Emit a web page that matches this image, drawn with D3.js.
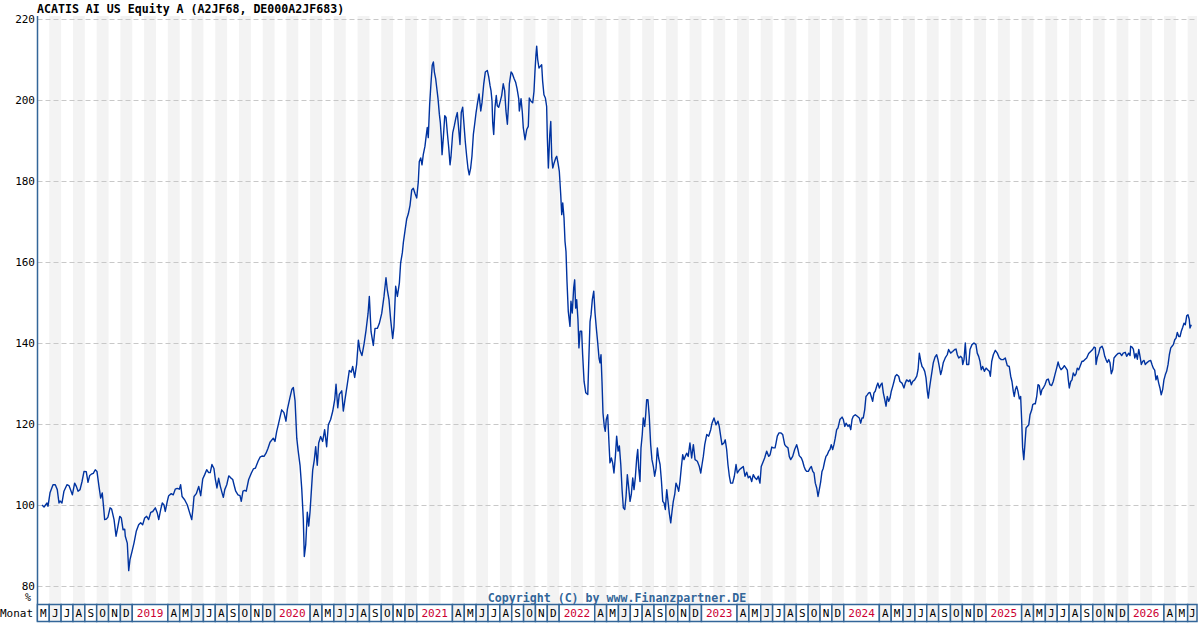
<!DOCTYPE html>
<html><head><meta charset="utf-8">
<script src="https://cdn.jsdelivr.net/npm/d3@7"></script>
<style>body{margin:0;background:#fff;}svg{display:block;}</style>
</head><body>
<svg id="chart" width="1200" height="630"></svg>
<script>
const title = "ACATIS AI US Equity A (A2JF68, DE000A2JF683)";
const copyright = "Copyright (C) by www.Finanzpartner.DE";
const yTicks = [80, 100, 120, 140, 160, 180, 200, 220];
const monthLetters = ["J","F","M","A","M","J","J","A","S","O","N","D"];
const axisStart = [2018, 4];   // May 2018 (year, 0-based month)
const axisEnd = [2026, 5];     // Jun 2026
const unitLabel = "%";
const rowLabel = "Monat";

// decimal-year dates and fund values (indexed, start = 100)
const dates = [
2018.366,2018.380,2018.401,2018.408,2018.422,2018.443,2018.459,2018.473,2018.485,2018.492,
2018.506,2018.520,2018.541,2018.555,2018.567,2018.579,2018.595,2018.607,2018.619,2018.633,
2018.647,2018.661,2018.677,2018.689,2018.701,2018.712,2018.726,2018.740,2018.752,2018.766,
2018.778,2018.789,2018.799,2018.806,2018.818,2018.829,2018.844,2018.855,2018.872,2018.886,
2018.895,2018.912,2018.923,2018.935,2018.947,2018.951,2018.965,2018.975,2018.984,2018.998,
2019.012,2019.028,2019.045,2019.059,2019.073,2019.087,2019.101,2019.115,2019.130,2019.144,
2019.162,2019.176,2019.186,2019.200,2019.211,2019.223,2019.232,2019.246,2019.256,2019.274,
2019.288,2019.302,2019.316,2019.331,2019.340,2019.350,2019.368,2019.387,2019.404,2019.418,
2019.427,2019.434,2019.450,2019.467,2019.481,2019.495,2019.509,2019.523,2019.537,2019.548,
2019.560,2019.574,2019.584,2019.595,2019.607,2019.619,2019.631,2019.640,2019.650,2019.664,
2019.678,2019.692,2019.706,2019.715,2019.727,2019.743,2019.757,2019.766,2019.778,2019.790,
2019.801,2019.818,2019.837,2019.851,2019.865,2019.884,2019.898,2019.912,2019.926,2019.940,
2019.954,2019.968,2019.991,2020.003,2020.015,2020.026,2020.050,2020.066,2020.080,2020.090,
2020.108,2020.122,2020.132,2020.144,2020.156,2020.165,2020.179,2020.191,2020.202,2020.209,
2020.219,2020.230,2020.240,2020.249,2020.261,2020.268,2020.279,2020.289,2020.300,2020.310,
2020.324,2020.338,2020.352,2020.366,2020.378,2020.394,2020.409,2020.423,2020.432,2020.444,
2020.455,2020.472,2020.483,2020.495,2020.511,2020.525,2020.539,2020.549,2020.563,2020.577,
2020.589,2020.600,2020.614,2020.629,2020.643,2020.657,2020.666,2020.678,2020.694,2020.706,
2020.722,2020.736,2020.753,2020.769,2020.783,2020.792,2020.804,2020.816,2020.830,2020.839,
2020.851,2020.863,2020.877,2020.886,2020.898,2020.905,2020.917,2020.929,2020.940,2020.952,
2020.964,2020.975,2020.987,2020.999,2021.010,2021.017,2021.027,2021.036,2021.045,2021.057,
2021.064,2021.073,2021.080,2021.090,2021.099,2021.108,2021.116,2021.123,2021.132,2021.139,
2021.149,2021.158,2021.165,2021.172,2021.177,2021.186,2021.196,2021.205,2021.214,2021.224,
2021.233,2021.240,2021.252,2021.263,2021.275,2021.284,2021.294,2021.303,2021.312,2021.322,
2021.331,2021.340,2021.350,2021.359,2021.368,2021.378,2021.387,2021.397,2021.406,2021.416,
2021.425,2021.437,2021.449,2021.458,2021.470,2021.481,2021.495,2021.505,2021.514,2021.521,
2021.528,2021.533,2021.540,2021.549,2021.558,2021.565,2021.575,2021.584,2021.596,2021.607,
2021.617,2021.626,2021.636,2021.643,2021.650,2021.662,2021.671,2021.683,2021.694,2021.704,
2021.716,2021.720,2021.732,2021.741,2021.748,2021.760,2021.772,2021.783,2021.790,2021.802,
2021.814,2021.823,2021.830,2021.837,2021.842,2021.849,2021.858,2021.867,2021.877,2021.884,
2021.893,2021.903,2021.912,2021.917,2021.924,2021.934,2021.941,2021.948,2021.955,2021.964,
2021.976,2021.983,2021.992,2022.001,2022.011,2022.018,2022.025,2022.034,2022.041,2022.048,
2022.055,2022.064,2022.076,2022.083,2022.092,2022.102,2022.109,2022.116,2022.123,2022.132,
2022.139,2022.147,2022.158,2022.165,2022.175,2022.187,2022.201,2022.208,2022.217,2022.224,
2022.233,2022.243,2022.252,2022.261,2022.271,2022.280,2022.287,2022.294,2022.301,2022.308,
2022.317,2022.324,2022.331,2022.341,2022.350,2022.357,2022.367,2022.376,2022.385,2022.395,
2022.404,2022.414,2022.423,2022.433,2022.442,2022.451,2022.461,2022.470,2022.479,2022.489,
2022.498,2022.507,2022.517,2022.526,2022.535,2022.545,2022.552,2022.559,2022.568,2022.575,
2022.584,2022.591,2022.601,2022.608,2022.615,2022.624,2022.633,2022.643,2022.652,2022.662,
2022.671,2022.681,2022.690,2022.699,2022.709,2022.718,2022.728,2022.737,2022.746,2022.756,
2022.765,2022.774,2022.784,2022.793,2022.802,2022.812,2022.821,2022.830,2022.840,2022.849,
2022.858,2022.868,2022.877,2022.886,2022.896,2022.907,2022.919,2022.931,2022.943,2022.955,
2022.971,2022.985,2022.995,2023.004,2023.013,2023.023,2023.037,2023.051,2023.065,2023.074,
2023.088,2023.102,2023.116,2023.125,2023.135,2023.144,2023.158,2023.167,2023.177,2023.186,
2023.196,2023.205,2023.219,2023.231,2023.243,2023.252,2023.266,2023.280,2023.294,2023.306,
2023.318,2023.329,2023.341,2023.353,2023.364,2023.376,2023.388,2023.399,2023.411,2023.420,
2023.430,2023.444,2023.458,2023.473,2023.482,2023.494,2023.505,2023.517,2023.524,2023.533,
2023.545,2023.557,2023.571,2023.585,2023.594,2023.608,2023.617,2023.627,2023.641,2023.655,
2023.669,2023.678,2023.687,2023.702,2023.711,2023.721,2023.730,2023.739,2023.751,2023.763,
2023.772,2023.782,2023.791,2023.800,2023.810,2023.819,2023.828,2023.838,2023.847,2023.856,
2023.866,2023.875,2023.884,2023.894,2023.903,2023.912,2023.922,2023.931,2023.940,2023.950,
2023.959,2023.973,2023.988,2023.997,2024.007,2024.016,2024.030,2024.039,2024.049,2024.058,
2024.067,2024.081,2024.095,2024.109,2024.119,2024.128,2024.137,2024.147,2024.156,2024.165,
2024.175,2024.184,2024.193,2024.203,2024.212,2024.221,2024.231,2024.240,2024.250,2024.260,
2024.269,2024.278,2024.288,2024.297,2024.306,2024.316,2024.325,2024.334,2024.344,2024.353,
2024.362,2024.372,2024.386,2024.395,2024.409,2024.423,2024.432,2024.442,2024.456,2024.465,
2024.475,2024.484,2024.498,2024.513,2024.522,2024.531,2024.541,2024.550,2024.559,2024.569,
2024.578,2024.587,2024.594,2024.601,2024.611,2024.620,2024.629,2024.641,2024.653,2024.662,
2024.671,2024.681,2024.690,2024.699,2024.713,2024.727,2024.737,2024.751,2024.765,2024.780,
2024.789,2024.798,2024.808,2024.822,2024.831,2024.836,2024.845,2024.854,2024.864,2024.878,
2024.887,2024.901,2024.915,2024.929,2024.938,2024.948,2024.957,2024.966,2024.976,2024.988,
2025.000,2025.011,2025.023,2025.030,2025.040,2025.051,2025.065,2025.079,2025.093,2025.107,
2025.121,2025.135,2025.149,2025.163,2025.173,2025.182,2025.191,2025.198,2025.206,2025.215,
2025.224,2025.234,2025.243,2025.250,2025.257,2025.265,2025.272,2025.281,2025.290,2025.300,
2025.309,2025.321,2025.328,2025.337,2025.346,2025.356,2025.365,2025.374,2025.384,2025.393,
2025.402,2025.414,2025.426,2025.437,2025.449,2025.461,2025.472,2025.484,2025.496,2025.506,
2025.515,2025.527,2025.539,2025.550,2025.562,2025.571,2025.578,2025.585,2025.595,2025.604,
2025.613,2025.623,2025.632,2025.641,2025.651,2025.660,2025.674,2025.683,2025.697,2025.707,
2025.721,2025.735,2025.749,2025.759,2025.768,2025.773,2025.782,2025.792,2025.801,2025.815,
2025.824,2025.834,2025.843,2025.852,2025.862,2025.871,2025.880,2025.890,2025.899,2025.913,
2025.927,2025.941,2025.953,2025.964,2025.978,2025.988,2026.002,2026.012,2026.016,2026.026,
2026.035,2026.045,2026.054,2026.063,2026.073,2026.082,2026.091,2026.101,2026.110,2026.119,
2026.129,2026.143,2026.157,2026.166,2026.175,2026.185,2026.194,2026.203,2026.213,2026.222,
2026.231,2026.241,2026.250,2026.260,2026.269,2026.279,2026.288,2026.298,2026.307,2026.316,
2026.326,2026.335,2026.344,2026.354,2026.363,2026.372,2026.382,2026.391,2026.400,2026.410,
2026.419,2026.428,2026.433,2026.442
];
const values = [
100.0,99.5,100.5,99.7,103.0,105.0,105.0,103.8,100.5,101.0,
100.5,103.4,105.0,104.8,103.7,102.5,105.4,104.6,103.4,103.8,
105.8,108.3,108.2,105.6,107.3,107.6,107.8,108.7,108.3,104.6,
101.7,103.0,99.3,96.4,96.5,97.0,99.3,99.0,96.4,92.3,
93.9,97.2,96.8,93.9,94.0,92.3,90.6,83.8,86.5,88.5,
90.6,93.5,95.1,95.6,95.1,96.8,97.2,96.4,98.2,98.4,
99.3,98.0,96.4,98.9,100.5,100.0,98.4,100.9,102.3,102.8,
102.5,103.9,104.1,103.9,105.0,102.1,101.3,100.0,98.0,96.4,
99.3,102.1,102.8,104.6,102.3,106.4,107.5,108.7,108.0,108.0,
110.0,109.0,106.3,104.2,106.6,104.6,103.0,101.9,103.8,105.0,
107.2,106.7,106.3,105.0,103.4,102.5,102.3,100.9,103.4,103.6,
103.4,106.3,107.9,108.9,109.1,110.8,111.8,112.1,112.0,112.8,
114.0,115.5,116.5,115.7,118.2,119.8,123.5,122.8,120.7,123.6,
126.5,128.6,129.0,125.7,116.5,113.6,109.8,104.0,96.5,87.3,
90.2,98.2,94.8,98.2,104.8,108.6,111.1,114.4,109.8,115.3,
116.9,115.7,118.6,114.4,119.8,121.1,123.2,126.1,129.8,124.0,
127.3,128.2,123.2,126.1,129.8,133.2,132.8,134.2,131.5,134.8,
140.7,138.2,136.9,139.8,143.2,147.3,151.5,142.8,139.4,143.6,
143.6,144.8,147.3,151.5,156.1,153.2,150.7,145.7,141.1,144.0,
154.0,151.5,154.8,159.8,162.3,164.8,167.8,170.7,171.9,174.0,
177.8,178.2,176.9,175.8,179.8,184.8,185.7,184.0,186.5,188.6,
190.7,193.2,190.7,199.0,204.0,208.6,209.4,206.9,205.3,203.2,
200.2,196.5,194.4,190.7,186.5,190.7,196.1,195.7,191.9,188.2,
184.0,186.1,191.9,193.6,195.7,196.9,192.8,189.0,196.9,198.2,
194.0,189.8,186.1,183.2,181.5,183.2,186.1,191.5,194.0,196.9,
199.0,201.5,197.3,199.4,204.0,206.9,207.3,205.7,203.6,202.3,
199.8,194.4,191.5,198.2,201.1,198.6,198.2,199.4,201.1,204.0,
202.3,197.3,194.0,198.2,204.0,206.9,206.5,205.3,204.4,202.8,
200.3,197.3,200.3,197.0,193.1,190.2,192.7,193.5,200.5,199.7,
199.3,202.1,207.1,211.2,213.3,210.0,207.9,208.3,208.7,204.6,
201.3,200.5,198.4,190.6,183.2,191.4,194.7,185.7,183.2,184.4,
185.7,186.1,184.4,182.4,176.6,171.7,174.6,170.9,165.1,162.6,
155.2,147.8,144.1,150.3,147.4,153.6,155.6,148.6,150.7,145.8,
138.8,142.9,142.9,137.1,130.5,127.7,127.3,135.5,145.3,147.0,
150.7,152.8,147.4,143.7,140.0,136.3,135.1,137.1,130.5,122.7,
119.4,118.2,121.1,122.3,115.3,110.4,111.6,110.4,107.9,112.0,
117.0,113.3,114.6,110.0,103.8,99.3,98.9,102.1,107.5,104.2,
100.9,102.6,106.7,103.8,106.7,111.6,113.7,109.1,105.8,114.1,
117.4,121.5,119.4,122.3,126.0,126.0,121.9,114.9,111.2,109.5,
107.1,109.1,114.1,111.6,110.0,106.3,100.9,100.5,98.9,103.8,
100.9,98.0,95.6,98.4,100.9,102.6,105.4,104.6,103.4,105.8,
109.1,112.4,111.2,112.0,112.8,112.0,115.3,111.6,114.9,111.2,
110.8,109.5,107.9,110.0,112.0,114.9,117.4,117.0,118.6,120.2,
121.5,119.8,120.7,119.4,117.0,114.9,115.3,116.1,113.7,110.0,
107.1,105.4,105.4,107.1,110.0,107.9,108.7,109.1,109.5,107.1,
108.1,106.7,107.1,105.8,107.5,106.7,106.3,107.1,105.4,109.5,
110.4,111.6,113.3,112.0,112.4,114.3,114.1,114.1,115.3,117.0,
117.8,117.8,117.4,114.9,114.5,114.1,112.0,111.2,112.0,113.7,
114.9,113.7,112.2,111.6,110.8,109.5,108.7,108.3,108.3,109.1,
109.5,108.3,107.9,105.4,104.2,102.1,103.8,105.8,108.3,109.1,
110.8,112.0,112.4,113.3,113.7,114.9,113.7,114.9,116.5,118.6,
119.0,121.1,121.7,121.1,119.4,120.2,119.4,119.8,118.6,121.1,
121.9,122.3,121.9,121.5,120.2,121.5,121.5,123.5,126.8,127.2,
127.7,127.8,126.8,125.6,127.7,128.1,129.3,130.1,128.9,129.7,
130.1,127.7,126.0,124.4,126.8,125.6,126.4,128.1,129.3,130.5,
131.8,132.2,131.8,130.5,130.1,128.9,130.1,130.9,130.5,130.9,
129.7,130.5,130.9,131.8,133.4,137.5,135.5,134.2,133.8,133.0,
131.4,128.1,126.4,128.5,130.9,133.0,135.1,136.5,137.1,135.9,
134.2,132.2,133.4,135.1,136.3,137.1,138.4,137.5,137.9,138.4,
138.5,137.1,136.3,136.7,136.3,134.7,135.9,140.0,134.7,134.7,
138.4,139.6,140.0,139.6,137.5,136.7,135.5,133.4,134.2,133.0,
133.8,133.4,133.0,131.8,135.5,137.1,138.2,137.5,136.3,135.9,
135.9,136.3,134.4,134.2,131.8,130.5,128.1,126.8,128.5,129.3,
128.1,126.2,126.8,121.1,114.1,111.2,114.5,119.0,119.4,119.8,
122.3,123.5,124.8,125.0,125.0,126.8,129.7,129.5,127.2,128.5,
128.9,129.7,130.9,131.1,129.7,129.5,130.5,132.2,133.8,135.3,
134.2,133.4,133.8,134.4,133.8,133.3,130.9,128.9,130.5,130.9,
132.6,131.9,132.4,133.8,133.4,134.2,135.5,135.5,136.0,136.3,
137.4,137.9,138.4,139.0,138.8,134.7,136.5,137.5,138.8,139.2,
138.4,136.7,135.9,135.2,135.9,135.1,132.4,133.4,136.3,136.9,
137.4,137.5,136.9,137.5,137.7,136.7,137.5,136.9,139.2,139.0,
138.5,136.3,137.4,136.0,138.4,136.7,134.7,135.5,135.7,134.7,
135.1,135.5,135.7,134.7,133.8,133.3,130.9,131.9,130.1,128.9,
127.2,128.5,130.9,132.2,133.0,134.7,137.1,138.8,139.2,139.6,
140.8,141.2,142.6,141.6,141.6,142.9,143.9,144.9,144.5,146.7,
147.0,145.8,143.7,144.5
];

const series = dates.map((d, i) => ({ t: d, v: values[i] }));

const svg = d3.select("#chart");
const plot = { left: 37.5, right: 1197, top: 16, bottom: 604 };
const axisRow = { top: 604.5, bottom: 621.5 };
const t0 = axisStart[0] + axisStart[1] / 12;
const pxPerYear = 142.3;
const x = d3.scaleLinear()
  .domain([t0, t0 + (plot.right - 37.4) / pxPerYear])
  .range([37.4, plot.right]);
const y = d3.scaleLinear().domain([80, 220]).range([586, 19]);

// month list
const months = [];
for (let yr = axisStart[0], m = axisStart[1]; yr < axisEnd[0] || (yr === axisEnd[0] && m <= axisEnd[1]); ) {
  months.push({ yr, m, t: yr + m / 12 });
  m++; if (m > 11) { m = 0; yr++; }
}

svg.append("defs").append("clipPath").attr("id", "pc")
  .append("rect").attr("x", plot.left).attr("y", plot.top)
  .attr("width", plot.right - plot.left).attr("height", plot.bottom - plot.top);

const g = svg.append("g").attr("clip-path", "url(#pc)");

// alternating month stripes
g.selectAll("rect.stripe").data(months.filter(d => d.m % 2 === 1)).enter()
  .append("rect").attr("class", "stripe")
  .attr("x", d => x(d.t)).attr("y", plot.top)
  .attr("width", d => x(d.t + 1 / 12) - x(d.t))
  .attr("height", plot.bottom - plot.top)
  .attr("fill", "#f3f3f3");

// grid lines
g.selectAll("line.grid").data(yTicks).enter().append("line")
  .attr("x1", plot.left).attr("x2", plot.right)
  .attr("y1", d => Math.round(y(d)) + 0.5).attr("y2", d => Math.round(y(d)) + 0.5)
  .attr("stroke", "#c8c8c8").attr("stroke-width", 1)
  .attr("stroke-dasharray", "5,3");

// line
g.append("path").datum(series)
  .attr("fill", "none").attr("stroke", "#0033a0").attr("stroke-width", 1.4)
  .attr("stroke-linejoin", "round")
  .attr("d", d3.line().x(d => x(d.t)).y(d => y(d.v)));

// left border
svg.append("line").attr("x1", plot.left).attr("x2", plot.left)
  .attr("y1", plot.top).attr("y2", axisRow.bottom)
  .attr("stroke", "#336699").attr("stroke-width", 1.5);

// y labels
svg.selectAll("text.yl").data(yTicks).enter().append("text")
  .attr("x", 35).attr("y", d => y(d) + 4)
  .attr("text-anchor", "end")
  .attr("font-family", "DejaVu Sans Mono, monospace").attr("font-size", 11)
  .attr("fill", "#000").text(d => d);

svg.append("text").attr("x", 31).attr("y", 601).attr("text-anchor", "end")
  .attr("font-family", "DejaVu Sans Mono, monospace").attr("font-size", 10)
  .text(unitLabel);

// title
svg.append("text").attr("x", 37).attr("y", 12.5)
  .attr("font-family", "DejaVu Sans Mono, monospace").attr("font-size", 11.6)
  .attr("font-weight", "bold").attr("fill", "#000").text(title);

// copyright
svg.append("text").attr("x", 617).attr("y", 602).attr("text-anchor", "middle")
  .attr("font-family", "DejaVu Sans Mono, monospace").attr("font-size", 11.6)
  .attr("font-weight", "bold").attr("fill", "#336699").text(copyright);

// month axis row
const cells = [];
months.forEach(d => {
  if (d.m === 1 || d.m === 2) return;
  if (d.m === 0) cells.push({ t0: d.t, t1: d.t + 3 / 12, label: String(d.yr), year: true, shade: false });
  else cells.push({ t0: d.t, t1: d.t + 1 / 12, label: monthLetters[d.m], year: false, shade: d.m % 2 === 1 });
});
const ax = svg.append("g");
ax.selectAll("rect.cell").data(cells).enter().append("rect")
  .attr("x", d => x(d.t0)).attr("y", axisRow.top)
  .attr("width", d => Math.min(x(d.t1), plot.right) - x(d.t0))
  .attr("height", axisRow.bottom - axisRow.top)
  .attr("fill", d => d.shade ? "#f3f3f3" : "#fff")
  .attr("stroke", "#336699").attr("stroke-width", 1.5);
ax.selectAll("text.cell").data(cells).enter().append("text")
  .attr("x", d => (x(d.t0) + Math.min(x(d.t1), plot.right)) / 2)
  .attr("y", 617)
  .attr("text-anchor", "middle")
  .attr("font-family", "DejaVu Sans Mono, monospace").attr("font-size", 11)
  .attr("fill", d => d.year ? "#cc0033" : "#000")
  .text(d => d.label);

svg.append("text").attr("x", 0).attr("y", 617)
  .attr("font-family", "DejaVu Sans Mono, monospace").attr("font-size", 11)
  .attr("fill", "#000").text(rowLabel);
</script>
</body></html>
